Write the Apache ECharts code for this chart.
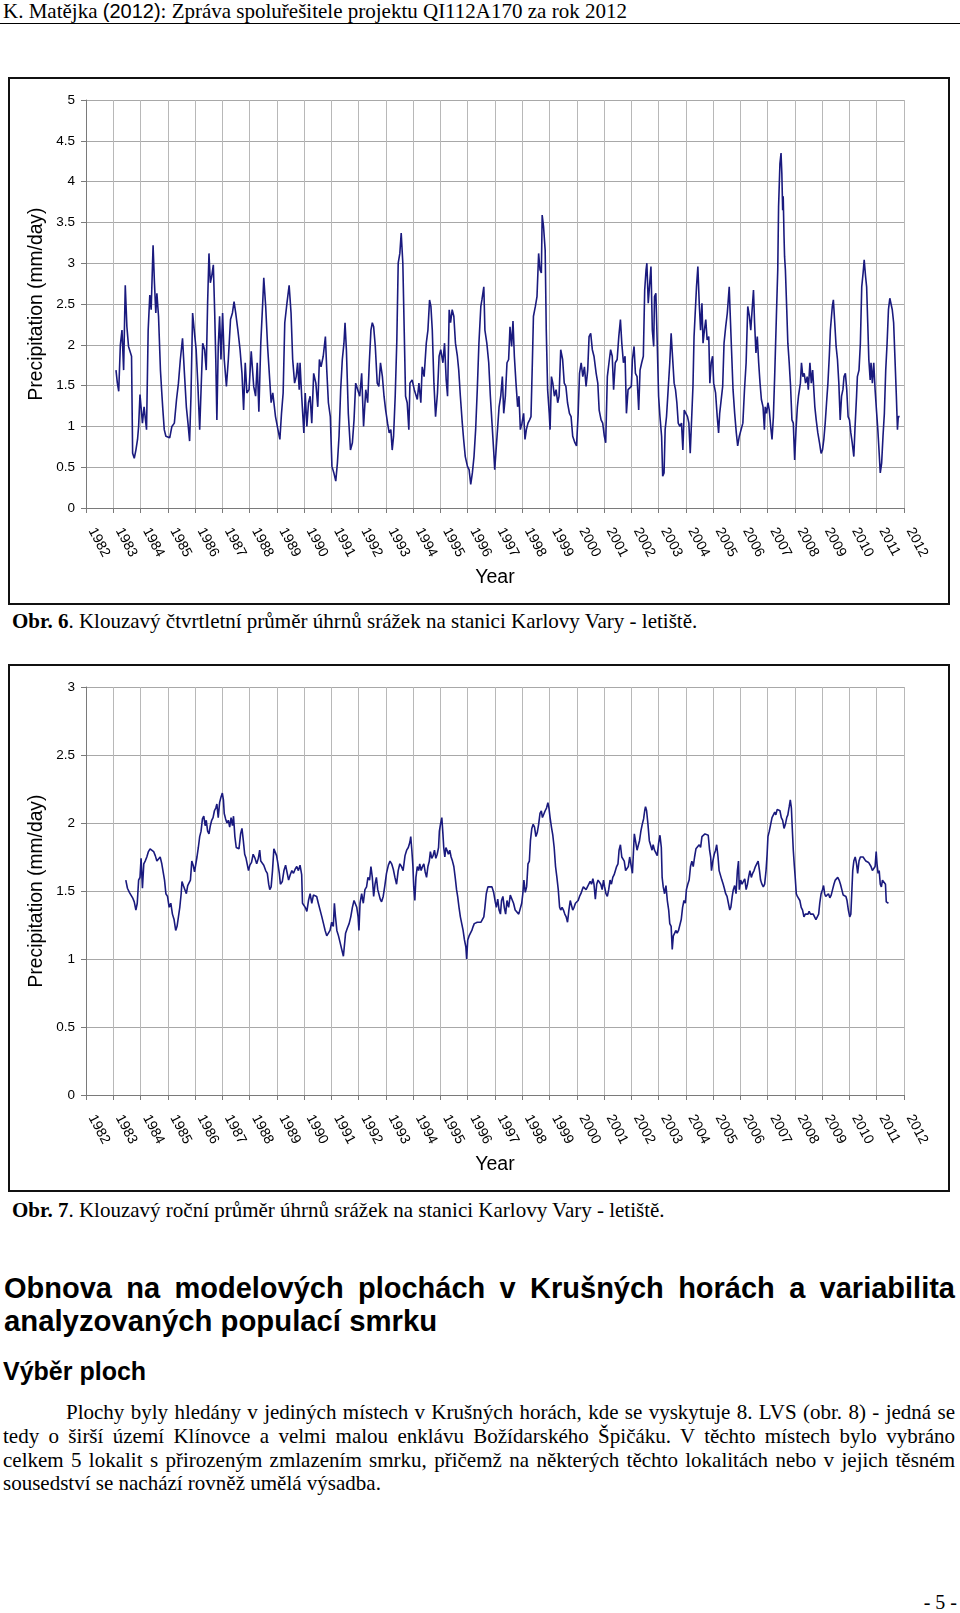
<!DOCTYPE html>
<html><head><meta charset="utf-8">
<script src="https://cdn.jsdelivr.net/npm/echarts@6/dist/echarts.min.js"></script>
<style>
html,body{margin:0;padding:0;background:#fff;}
body{width:960px;height:1613px;position:relative;overflow:hidden;}
.serif{font-family:"Liberation Serif","Times New Roman",serif;color:#000;}
.sans{font-family:"Liberation Sans",Arial,sans-serif;color:#000;}
.abs{position:absolute;white-space:nowrap;}
.just{text-align:justify;text-align-last:justify;}
.box{position:absolute;border:2px solid #111;box-sizing:border-box;z-index:2;pointer-events:none;}
.chart{position:absolute;z-index:1;}
</style></head>
<body>
<div class="abs serif" style="left:3px;top:-1px;font-size:21px;line-height:24px;">K. Matějka <span class="sans" style="font-size:20px">(2012)</span>: Zpráva spoluřešitele projektu QI112A170 za rok 2012</div>
<div style="position:absolute;left:0;top:23px;width:960px;height:1px;background:#000"></div>

<div id="c1" class="chart" style="left:8px;top:77px;width:942px;height:528px;"></div>
<div class="box" style="left:8px;top:77px;width:942px;height:528px;"></div>
<div class="abs serif" style="left:12px;top:609px;font-size:21px;line-height:24px;"><b>Obr. 6</b>. Klouzavý čtvrtletní průměr úhrnů srážek na stanici Karlovy Vary - letiště.</div>

<div id="c2" class="chart" style="left:8px;top:664px;width:942px;height:528px;"></div>
<div class="box" style="left:8px;top:664px;width:942px;height:528px;"></div>
<div class="abs serif" style="left:12px;top:1198px;font-size:21px;line-height:24px;"><b>Obr. 7</b>. Klouzavý roční průměr úhrnů srážek na stanici Karlovy Vary - letiště.</div>

<div class="abs sans just" style="left:4px;top:1272px;width:951px;font-size:29px;line-height:32px;font-weight:bold;">Obnova na modelových plochách v Krušných horách a variabilita</div>
<div class="abs sans" style="left:4px;top:1305px;font-size:29.3px;line-height:32px;font-weight:bold;">analyzovaných populací smrku</div>
<div class="abs sans" style="left:3px;top:1356px;font-size:25px;line-height:30px;font-weight:bold;">Výběr ploch</div>

<div class="abs serif just" style="left:66px;top:1401px;width:889px;font-size:21px;line-height:23.3px;">Plochy byly hledány v jediných místech v Krušných horách, kde se vyskytuje 8. LVS (obr. 8) - jedná se</div>
<div class="abs serif just" style="left:3px;top:1424.5px;width:952px;font-size:21px;line-height:23.3px;">tedy o širší území Klínovce a velmi malou enklávu Božídarského Špičáku. V těchto místech bylo vybráno</div>
<div class="abs serif just" style="left:3px;top:1448.5px;width:952px;font-size:21px;line-height:23.3px;">celkem 5 lokalit s přirozeným zmlazením smrku, přičemž na některých těchto lokalitách nebo v jejich těsném</div>
<div class="abs serif" style="left:3px;top:1472px;font-size:21px;line-height:23.3px;">sousedství se nachází rovněž umělá výsadba.</div>

<div class="abs serif" style="right:3px;top:1590px;font-size:20px;line-height:24px;">- 5 -</div>

<script>
// Obr. 6 – rolling quarterly mean precipitation (mm/day): [decimal year, value]
const quarterlyMean = [
[1983.10,1.69],[1983.15,1.53],[1983.20,1.43],[1983.26,2.00],[1983.32,2.18],[1983.38,1.69],[1983.44,2.73],[1983.50,2.22],[1983.56,1.98],[1983.62,2.00],[1983.67,1.86],[1983.71,0.67],[1983.77,0.61],[1983.83,0.71],[1983.89,0.84],[1983.93,1.00],[1983.98,1.39],
[1984.02,1.37],[1984.07,1.04],[1984.13,1.24],[1984.22,0.96],[1984.28,2.18],[1984.34,2.61],[1984.39,2.43],[1984.46,3.22],[1984.51,2.76],[1984.56,2.39],[1984.60,2.63],[1984.66,2.35],[1984.73,1.69],[1984.78,1.41],[1984.82,1.20],[1984.87,0.96],[1984.93,0.88],
[1985.00,0.90],[1985.07,0.86],[1985.15,1.00],[1985.24,1.04],[1985.32,1.33],[1985.39,1.53],[1985.46,1.82],[1985.54,2.08],[1985.61,1.65],[1985.68,1.24],[1985.74,1.04],[1985.80,0.82],[1985.85,1.37],[1985.91,2.39],[1985.98,2.14],
[1986.04,1.94],[1986.10,1.53],[1986.17,0.96],[1986.22,1.45],[1986.28,2.02],[1986.35,1.94],[1986.41,1.69],[1986.46,2.51],[1986.51,3.12],[1986.56,2.76],[1986.61,2.84],[1986.67,2.98],[1986.72,2.39],[1986.76,1.82],[1986.80,1.08],[1986.85,1.98],[1986.90,2.35],[1986.95,1.82],
[1987.01,2.39],[1987.07,1.82],[1987.15,1.49],[1987.22,1.82],[1987.30,2.31],[1987.37,2.39],[1987.43,2.53],[1987.49,2.39],[1987.57,2.18],[1987.65,1.94],[1987.72,1.65],[1987.78,1.20],[1987.84,1.78],[1987.90,1.41],[1987.98,1.45],
[1988.06,1.92],[1988.15,1.49],[1988.22,1.37],[1988.28,1.78],[1988.34,1.18],[1988.41,2.02],[1988.48,2.51],[1988.52,2.82],[1988.59,2.47],[1988.66,1.98],[1988.73,1.61],[1988.79,1.29],[1988.85,1.41],[1988.95,1.12],
[1989.04,0.96],[1989.11,0.84],[1989.17,1.16],[1989.23,1.41],[1989.29,2.27],[1989.37,2.51],[1989.45,2.73],[1989.52,2.39],[1989.58,1.82],[1989.65,1.53],[1989.71,1.61],[1989.76,1.78],[1989.82,1.45],[1989.85,1.78],[1989.91,1.37],[1989.99,0.92],
[1990.04,1.41],[1990.10,1.00],[1990.16,1.29],[1990.22,1.37],[1990.28,1.04],[1990.35,1.65],[1990.43,1.53],[1990.50,1.24],[1990.56,1.82],[1990.62,1.73],[1990.70,1.86],[1990.78,2.10],[1990.83,1.69],[1990.89,1.29],[1990.96,1.12],
[1991.02,0.51],[1991.09,0.43],[1991.16,0.33],[1991.22,0.55],[1991.28,0.88],[1991.34,1.45],[1991.40,1.82],[1991.46,2.02],[1991.50,2.27],[1991.55,1.94],[1991.62,1.16],[1991.70,0.71],[1991.77,0.80],[1991.83,1.08],[1991.89,1.53],[1991.96,1.53],
[1992.04,1.37],[1992.11,1.65],[1992.18,1.00],[1992.26,1.45],[1992.33,1.29],[1992.39,1.78],[1992.45,2.18],[1992.50,2.27],[1992.55,2.22],[1992.61,1.98],[1992.68,1.53],[1992.74,1.49],[1992.80,1.78],[1992.87,1.61],[1992.93,1.37],[1992.99,1.20],
[1993.06,1.04],[1993.12,0.92],[1993.18,0.96],[1993.23,0.71],[1993.28,0.88],[1993.34,1.37],[1993.40,2.06],[1993.45,3.00],[1993.51,3.12],[1993.56,3.37],[1993.62,3.00],[1993.67,2.18],[1993.72,1.37],[1993.78,1.29],[1993.84,0.96],[1993.88,1.53],[1993.96,1.57],
[1994.04,1.45],[1994.10,1.45],[1994.15,1.33],[1994.21,1.53],[1994.28,1.29],[1994.33,1.73],[1994.40,1.61],[1994.48,2.02],[1994.54,2.18],[1994.60,2.55],[1994.65,2.47],[1994.70,2.18],[1994.76,1.53],[1994.82,1.12],[1994.89,1.41],[1994.95,1.86],
[1995.01,1.94],[1995.09,1.78],[1995.15,2.02],[1995.21,1.57],[1995.26,1.37],[1995.32,2.43],[1995.37,2.27],[1995.43,2.43],[1995.49,2.35],[1995.55,2.02],[1995.62,1.86],[1995.67,1.69],[1995.73,1.37],[1995.80,1.04],[1995.85,0.84],[1995.91,0.63],[1995.99,0.51],
[1996.05,0.47],[1996.11,0.29],[1996.17,0.43],[1996.23,0.63],[1996.29,0.96],[1996.35,1.45],[1996.41,2.02],[1996.48,2.47],[1996.52,2.55],[1996.59,2.71],[1996.63,2.18],[1996.70,2.02],[1996.77,1.78],[1996.83,1.37],[1996.89,1.04],[1996.95,0.71],[1996.99,0.47],
[1997.04,0.71],[1997.10,1.00],[1997.15,1.24],[1997.21,1.37],[1997.27,1.61],[1997.32,1.16],[1997.38,1.37],[1997.44,1.78],[1997.50,1.82],[1997.55,2.22],[1997.61,1.98],[1997.66,2.29],[1997.71,1.86],[1997.77,1.53],[1997.83,1.24],[1997.88,1.37],[1997.93,0.96],[1997.99,1.04],
[1998.05,1.16],[1998.10,0.84],[1998.15,0.96],[1998.21,1.04],[1998.27,1.08],[1998.32,1.12],[1998.37,1.78],[1998.41,2.35],[1998.48,2.47],[1998.54,2.59],[1998.60,3.12],[1998.65,2.92],[1998.70,2.88],[1998.73,3.59],[1998.78,3.45],[1998.84,3.16],[1998.88,2.18],[1998.93,1.45],[1998.99,1.16],
[1999.02,0.96],[1999.07,1.61],[1999.12,1.53],[1999.18,1.37],[1999.24,1.45],[1999.30,1.29],[1999.35,1.37],[1999.41,1.94],[1999.48,1.82],[1999.54,1.53],[1999.60,1.49],[1999.66,1.29],[1999.73,1.16],[1999.79,1.12],[1999.85,0.88],[1999.93,0.80],[1999.99,0.76],
[2000.05,1.16],[2000.10,1.65],[2000.16,1.78],[2000.22,1.61],[2000.28,1.73],[2000.34,1.49],[2000.40,1.69],[2000.45,2.10],[2000.51,2.14],[2000.57,1.94],[2000.63,1.86],[2000.71,1.65],[2000.77,1.53],[2000.82,1.20],[2000.89,1.08],[2000.95,1.04],
[2001.01,0.88],[2001.06,0.80],[2001.12,1.61],[2001.18,1.78],[2001.24,1.94],[2001.30,1.86],[2001.35,1.45],[2001.41,1.78],[2001.48,1.82],[2001.54,2.10],[2001.60,2.31],[2001.65,2.02],[2001.71,1.78],[2001.77,1.86],[2001.82,1.16],[2001.88,1.45],[2001.94,1.45],
[2002.00,1.49],[2002.04,1.82],[2002.10,1.98],[2002.15,1.65],[2002.21,1.61],[2002.27,1.20],[2002.32,1.69],[2002.38,1.78],[2002.44,1.86],[2002.49,2.67],[2002.54,2.92],[2002.57,3.00],[2002.62,2.51],[2002.67,2.51],[2002.72,2.96],[2002.77,2.18],[2002.82,1.98],[2002.85,2.59],[2002.90,2.63],[2002.95,2.02],
[2003.00,1.37],[2003.05,1.12],[2003.11,0.88],[2003.15,0.39],[2003.20,0.43],[2003.24,0.96],[2003.29,1.12],[2003.35,1.45],[2003.41,1.78],[2003.46,2.14],[2003.51,1.86],[2003.57,1.53],[2003.62,1.45],[2003.67,1.29],[2003.72,1.04],[2003.78,1.00],[2003.84,1.04],[2003.89,0.71],[2003.94,1.20],
[2004.00,1.20],[2004.06,1.12],[2004.11,1.04],[2004.16,0.67],[2004.21,0.67],[2004.26,1.49],[2004.30,2.10],[2004.39,2.71],[2004.44,2.96],[2004.49,2.51],[2004.54,2.18],[2004.59,2.51],[2004.63,2.02],[2004.68,2.18],[2004.73,2.31],[2004.78,2.06],[2004.84,2.10],[2004.88,1.53],[2004.93,1.78],[2004.98,1.86],
[2005.02,1.53],[2005.09,1.41],[2005.15,1.12],[2005.20,0.92],[2005.24,1.16],[2005.30,1.16],[2005.35,1.49],[2005.40,2.02],[2005.46,2.22],[2005.52,2.39],[2005.59,2.71],[2005.62,2.43],[2005.67,1.98],[2005.73,1.45],[2005.79,1.16],[2005.85,0.92],[2005.90,0.76],[2005.96,0.88],
[2006.02,0.88],[2006.09,1.04],[2006.15,1.45],[2006.21,1.78],[2006.27,2.47],[2006.33,2.35],[2006.38,2.18],[2006.43,2.43],[2006.48,2.67],[2006.52,2.27],[2006.57,1.90],[2006.62,2.10],[2006.67,1.78],[2006.72,1.53],[2006.77,1.33],[2006.83,1.24],[2006.88,0.96],[2006.91,1.24],[2006.96,1.16],
[2007.01,1.29],[2007.06,1.20],[2007.11,1.00],[2007.16,0.84],[2007.21,1.12],[2007.26,1.65],[2007.32,2.35],[2007.37,2.92],[2007.40,3.69],[2007.45,4.22],[2007.49,4.35],[2007.52,4.10],[2007.55,3.65],[2007.57,3.82],[2007.60,3.33],[2007.62,3.08],[2007.65,2.92],[2007.70,2.43],[2007.74,2.02],[2007.79,1.78],[2007.84,1.49],[2007.89,1.08],[2007.94,1.04],[2007.99,0.59],
[2008.04,0.96],[2008.09,1.24],[2008.13,1.37],[2008.20,1.53],[2008.24,1.78],[2008.29,1.61],[2008.34,1.65],[2008.39,1.53],[2008.45,1.61],[2008.49,1.45],[2008.55,1.78],[2008.60,1.53],[2008.65,1.69],[2008.70,1.41],[2008.73,1.24],[2008.78,1.08],[2008.84,0.92],[2008.90,0.80],[2008.96,0.67],
[2009.01,0.71],[2009.06,0.84],[2009.11,1.04],[2009.16,1.29],[2009.21,1.53],[2009.26,1.86],[2009.30,2.18],[2009.37,2.47],[2009.41,2.55],[2009.46,2.27],[2009.51,1.98],[2009.56,1.82],[2009.61,1.53],[2009.66,1.08],[2009.71,1.37],[2009.76,1.45],[2009.80,1.61],[2009.85,1.65],[2009.90,1.45],[2009.95,1.12],
[2010.00,1.08],[2010.05,0.92],[2010.10,0.80],[2010.16,0.63],[2010.20,0.96],[2010.26,1.37],[2010.29,1.61],[2010.35,1.69],[2010.40,2.02],[2010.45,2.71],[2010.50,2.88],[2010.54,3.04],[2010.59,2.84],[2010.63,2.71],[2010.67,2.27],[2010.71,1.82],[2010.76,1.57],[2010.79,1.78],[2010.84,1.53],[2010.89,1.78],[2010.94,1.45],[2010.99,1.20],
[2011.04,0.96],[2011.09,0.67],[2011.13,0.43],[2011.18,0.55],[2011.23,0.88],[2011.28,1.16],[2011.33,1.69],[2011.38,2.02],[2011.43,2.43],[2011.48,2.57],[2011.52,2.55],[2011.57,2.43],[2011.62,2.27],[2011.67,1.82],[2011.72,1.37],[2011.76,0.96],[2011.79,1.12],[2011.84,1.12]
];

// Obr. 7 – rolling annual mean precipitation (mm/day): [decimal year, value]
const annualMean = [
[1983.46,1.58],[1983.52,1.52],[1983.59,1.49],[1983.65,1.47],[1983.71,1.45],[1983.77,1.42],[1983.83,1.36],[1983.88,1.41],[1983.93,1.58],[1983.98,1.60],
[1984.02,1.74],[1984.07,1.52],[1984.12,1.70],[1984.17,1.72],[1984.23,1.75],[1984.29,1.79],[1984.35,1.81],[1984.41,1.82],[1984.48,1.79],[1984.54,1.76],[1984.60,1.72],[1984.66,1.71],[1984.72,1.75],[1984.78,1.70],[1984.83,1.70],[1984.88,1.58],[1984.93,1.48],[1984.99,1.46],
[1985.05,1.38],[1985.11,1.41],[1985.17,1.33],[1985.23,1.29],[1985.29,1.21],[1985.34,1.24],[1985.39,1.31],[1985.44,1.38],[1985.49,1.48],[1985.52,1.57],[1985.57,1.54],[1985.63,1.54],[1985.68,1.48],[1985.73,1.54],[1985.78,1.54],[1985.83,1.58],[1985.88,1.72],[1985.93,1.69],[1985.98,1.64],
[1986.02,1.65],[1986.07,1.75],[1986.12,1.82],[1986.17,1.90],[1986.22,1.94],[1986.27,2.03],[1986.32,2.05],[1986.37,1.98],[1986.41,2.02],[1986.46,1.94],[1986.51,1.92],[1986.56,1.98],[1986.61,2.02],[1986.66,2.04],[1986.71,2.09],[1986.76,2.11],[1986.80,2.14],[1986.85,2.04],[1986.90,2.15],[1986.95,2.19],
[1987.00,2.22],[1987.04,2.17],[1987.07,2.07],[1987.12,2.03],[1987.17,2.00],[1987.22,2.02],[1987.27,1.97],[1987.32,2.04],[1987.37,1.98],[1987.41,2.05],[1987.46,1.90],[1987.51,1.82],[1987.56,1.83],[1987.61,1.81],[1987.67,1.92],[1987.72,1.96],[1987.77,1.87],[1987.82,1.77],[1987.87,1.74],[1987.91,1.70],[1987.96,1.65],
[1988.01,1.69],[1988.07,1.71],[1988.13,1.77],[1988.20,1.74],[1988.26,1.70],[1988.32,1.74],[1988.37,1.80],[1988.41,1.72],[1988.46,1.71],[1988.52,1.69],[1988.59,1.65],[1988.65,1.63],[1988.70,1.55],[1988.74,1.51],[1988.79,1.53],[1988.84,1.65],[1988.89,1.81],[1988.94,1.82],[1988.99,1.76],
[1989.04,1.70],[1989.09,1.63],[1989.13,1.55],[1989.20,1.57],[1989.26,1.65],[1989.32,1.69],[1989.37,1.68],[1989.43,1.58],[1989.49,1.62],[1989.55,1.65],[1989.61,1.63],[1989.67,1.66],[1989.73,1.68],[1989.79,1.65],[1989.85,1.69],[1989.91,1.62],[1989.94,1.41],[1989.98,1.42],
[1990.04,1.38],[1990.10,1.35],[1990.16,1.43],[1990.22,1.48],[1990.28,1.41],[1990.34,1.47],[1990.40,1.48],[1990.46,1.46],[1990.52,1.41],[1990.59,1.41],[1990.65,1.31],[1990.71,1.26],[1990.77,1.21],[1990.83,1.17],[1990.89,1.18],[1990.95,1.21],
[1991.01,1.27],[1991.07,1.24],[1991.11,1.41],[1991.15,1.31],[1991.20,1.21],[1991.26,1.17],[1991.32,1.12],[1991.38,1.07],[1991.44,1.02],[1991.48,1.01],[1991.52,1.19],[1991.59,1.23],[1991.65,1.26],[1991.71,1.31],[1991.77,1.38],[1991.83,1.43],[1991.88,1.44],[1991.93,1.38],[1991.98,1.31],
[1992.01,1.21],[1992.05,1.41],[1992.11,1.48],[1992.17,1.41],[1992.23,1.51],[1992.29,1.53],[1992.34,1.60],[1992.40,1.58],[1992.45,1.68],[1992.50,1.60],[1992.55,1.46],[1992.60,1.55],[1992.65,1.60],[1992.70,1.51],[1992.74,1.52],[1992.79,1.44],[1992.84,1.42],[1992.90,1.46],[1992.96,1.54],
[1993.02,1.63],[1993.09,1.69],[1993.15,1.72],[1993.21,1.70],[1993.27,1.66],[1993.33,1.60],[1993.39,1.55],[1993.45,1.65],[1993.51,1.70],[1993.57,1.68],[1993.63,1.65],[1993.70,1.76],[1993.76,1.80],[1993.82,1.82],[1993.88,1.86],[1993.91,1.90],[1993.95,1.80],[1993.99,1.68],
[1994.02,1.53],[1994.06,1.43],[1994.10,1.60],[1994.15,1.68],[1994.20,1.65],[1994.24,1.70],[1994.29,1.65],[1994.34,1.68],[1994.39,1.70],[1994.44,1.64],[1994.49,1.60],[1994.54,1.68],[1994.59,1.72],[1994.63,1.79],[1994.68,1.74],[1994.73,1.76],[1994.78,1.80],[1994.83,1.74],[1994.88,1.77],[1994.93,1.82],[1994.96,1.94],
[1995.00,1.99],[1995.05,2.04],[1995.09,1.92],[1995.12,1.82],[1995.16,1.75],[1995.20,1.82],[1995.24,1.80],[1995.29,1.77],[1995.34,1.80],[1995.39,1.75],[1995.44,1.72],[1995.49,1.68],[1995.54,1.60],[1995.59,1.51],[1995.63,1.46],[1995.68,1.38],[1995.73,1.31],[1995.78,1.26],[1995.83,1.21],[1995.88,1.14],[1995.93,1.09],[1995.96,1.00],
[1996.00,1.14],[1996.05,1.17],[1996.10,1.19],[1996.15,1.21],[1996.20,1.24],[1996.24,1.26],[1996.29,1.26],[1996.35,1.27],[1996.41,1.26],[1996.48,1.27],[1996.54,1.27],[1996.59,1.31],[1996.63,1.38],[1996.68,1.48],[1996.74,1.53],[1996.80,1.54],[1996.89,1.53],[1996.95,1.49],
[1997.01,1.42],[1997.05,1.38],[1997.10,1.44],[1997.15,1.36],[1997.20,1.33],[1997.24,1.43],[1997.29,1.46],[1997.34,1.38],[1997.39,1.33],[1997.44,1.43],[1997.50,1.38],[1997.56,1.47],[1997.62,1.46],[1997.68,1.41],[1997.74,1.36],[1997.80,1.35],[1997.87,1.33],[1997.93,1.32],[1997.98,1.41],
[1998.02,1.48],[1998.06,1.58],[1998.11,1.49],[1998.16,1.53],[1998.21,1.70],[1998.26,1.72],[1998.30,1.87],[1998.35,1.96],[1998.40,1.99],[1998.45,1.97],[1998.50,1.90],[1998.55,1.93],[1998.60,1.99],[1998.65,2.07],[1998.70,2.09],[1998.74,2.04],[1998.79,2.05],[1998.84,2.09],[1998.89,2.11],[1998.94,2.15],[1998.98,2.11],
[1999.02,2.04],[1999.07,1.97],[1999.12,1.91],[1999.17,1.82],[1999.22,1.68],[1999.27,1.60],[1999.32,1.51],[1999.37,1.38],[1999.41,1.36],[1999.46,1.38],[1999.51,1.36],[1999.56,1.33],[1999.61,1.31],[1999.66,1.27],[1999.71,1.36],[1999.76,1.43],[1999.80,1.42],[1999.85,1.36],[1999.90,1.38],[1999.95,1.41],
[2000.00,1.40],[2000.05,1.43],[2000.10,1.46],[2000.15,1.48],[2000.20,1.51],[2000.24,1.53],[2000.29,1.54],[2000.34,1.51],[2000.39,1.53],[2000.44,1.54],[2000.49,1.57],[2000.54,1.55],[2000.59,1.59],[2000.63,1.55],[2000.68,1.44],[2000.73,1.55],[2000.78,1.58],[2000.83,1.59],[2000.88,1.55],[2000.93,1.51],[2000.98,1.58],
[2001.02,1.53],[2001.07,1.48],[2001.12,1.46],[2001.17,1.51],[2001.22,1.58],[2001.27,1.55],[2001.32,1.60],[2001.37,1.62],[2001.41,1.63],[2001.46,1.68],[2001.51,1.70],[2001.55,1.80],[2001.60,1.84],[2001.65,1.75],[2001.70,1.76],[2001.74,1.72],[2001.79,1.65],[2001.84,1.64],[2001.89,1.68],[2001.94,1.75],[2001.99,1.74],
[2002.04,1.63],[2002.07,1.63],[2002.11,1.92],[2002.16,1.91],[2002.21,1.80],[2002.26,1.84],[2002.30,1.87],[2002.35,1.94],[2002.40,1.99],[2002.45,2.03],[2002.49,2.09],[2002.52,2.12],[2002.56,2.09],[2002.61,1.99],[2002.66,1.87],[2002.71,1.86],[2002.76,1.80],[2002.80,1.84],[2002.85,1.80],[2002.90,1.79],[2002.95,1.76],
[2003.00,1.85],[2003.05,1.91],[2003.10,1.82],[2003.13,1.60],[2003.17,1.53],[2003.22,1.48],[2003.27,1.54],[2003.32,1.43],[2003.37,1.36],[2003.41,1.26],[2003.46,1.24],[2003.50,1.07],[2003.54,1.17],[2003.59,1.19],[2003.63,1.21],[2003.68,1.19],[2003.73,1.21],[2003.78,1.21],[2003.83,1.29],[2003.88,1.38],[2003.93,1.43],[2003.98,1.41],
[2004.02,1.51],[2004.07,1.55],[2004.12,1.58],[2004.17,1.68],[2004.22,1.72],[2004.27,1.68],[2004.32,1.75],[2004.37,1.81],[2004.44,1.80],[2004.49,1.84],[2004.54,1.82],[2004.59,1.90],[2004.63,1.91],[2004.70,1.92],[2004.76,1.91],[2004.82,1.91],[2004.87,1.80],[2004.91,1.75],[2004.94,1.65],[2004.99,1.72],
[2005.04,1.77],[2005.09,1.80],[2005.13,1.84],[2005.18,1.75],[2005.22,1.65],[2005.27,1.65],[2005.32,1.58],[2005.37,1.55],[2005.41,1.52],[2005.46,1.48],[2005.51,1.46],[2005.56,1.41],[2005.61,1.36],[2005.65,1.38],[2005.70,1.46],[2005.74,1.51],[2005.79,1.54],[2005.84,1.48],[2005.89,1.65],[2005.93,1.72],[2005.96,1.51],
[2006.01,1.58],[2006.06,1.55],[2006.11,1.56],[2006.16,1.59],[2006.21,1.51],[2006.26,1.55],[2006.30,1.60],[2006.35,1.65],[2006.40,1.60],[2006.45,1.63],[2006.50,1.65],[2006.55,1.68],[2006.60,1.70],[2006.65,1.72],[2006.70,1.65],[2006.74,1.58],[2006.79,1.55],[2006.84,1.53],[2006.89,1.55],[2006.94,1.65],[2006.98,1.77],
[2007.01,1.90],[2007.06,1.94],[2007.11,1.99],[2007.16,2.04],[2007.21,2.05],[2007.26,2.08],[2007.30,2.06],[2007.35,2.10],[2007.40,2.11],[2007.45,2.09],[2007.50,2.04],[2007.55,2.02],[2007.60,1.96],[2007.65,1.99],[2007.70,2.04],[2007.74,2.06],[2007.79,2.12],[2007.83,2.17],[2007.87,2.11],[2007.90,1.97],[2007.94,1.80],[2007.98,1.68],
[2008.01,1.60],[2008.05,1.48],[2008.09,1.46],[2008.13,1.45],[2008.18,1.43],[2008.23,1.38],[2008.28,1.36],[2008.33,1.31],[2008.38,1.33],[2008.43,1.32],[2008.48,1.33],[2008.52,1.35],[2008.57,1.33],[2008.62,1.32],[2008.67,1.33],[2008.72,1.31],[2008.77,1.29],[2008.82,1.30],[2008.87,1.33],[2008.91,1.41],[2008.96,1.48],
[2009.01,1.51],[2009.05,1.54],[2009.09,1.48],[2009.13,1.46],[2009.18,1.45],[2009.23,1.48],[2009.28,1.45],[2009.33,1.47],[2009.38,1.51],[2009.43,1.55],[2009.48,1.58],[2009.52,1.59],[2009.57,1.60],[2009.62,1.58],[2009.67,1.55],[2009.72,1.51],[2009.77,1.47],[2009.82,1.48],[2009.87,1.46],[2009.91,1.43],[2009.96,1.36],
[2010.01,1.31],[2010.05,1.33],[2010.09,1.51],[2010.12,1.65],[2010.16,1.72],[2010.21,1.75],[2010.26,1.70],[2010.30,1.63],[2010.35,1.72],[2010.40,1.75],[2010.45,1.76],[2010.50,1.75],[2010.55,1.74],[2010.60,1.72],[2010.65,1.72],[2010.70,1.71],[2010.74,1.70],[2010.79,1.68],[2010.84,1.65],[2010.89,1.64],[2010.94,1.68],[2010.98,1.79],
[2011.01,1.70],[2011.05,1.63],[2011.09,1.65],[2011.13,1.55],[2011.17,1.53],[2011.21,1.58],[2011.24,1.59],[2011.28,1.57],[2011.32,1.55],[2011.35,1.42],[2011.39,1.41],[2011.43,1.41]
];

const yearRange = [1982, 2012];
const yMaxObr6 = 5;
const yMaxObr7 = 3;
const xAxisTitle = 'Year';
const yAxisTitle = 'Precipitation (mm/day)';

function build(el, data, yMax) {
  const chart = echarts.init(el, null, {renderer: 'canvas'});
  const labelFont = {fontFamily: '"Liberation Sans", Arial, sans-serif', color: '#000'};
  chart.setOption({
    animation: false,
    grid: {left: 78, right: 46, top: 23, bottom: 97, containLabel: false},
    xAxis: {
      type: 'value', min: yearRange[0], max: yearRange[1], interval: 1,
      name: xAxisTitle, nameLocation: 'middle', nameGap: 60, nameMoveOverlap: false,
      nameTextStyle: Object.assign({fontSize: 19.5}, labelFont),
      axisLine: {show: true, onZero: false, lineStyle: {color: '#7a7a7a', width: 1}},
      axisTick: {show: true, length: 5, lineStyle: {color: '#7a7a7a'}},
      axisLabel: Object.assign({rotate: -62, margin: 10, padding: [0, 0, 0, 12], fontSize: 14, formatter: v => String(v)}, labelFont),
      splitLine: {show: true, lineStyle: {color: '#b8b8b8', width: 1}}
    },
    yAxis: {
      type: 'value', min: 0, max: yMax, interval: 0.5,
      name: yAxisTitle, nameLocation: 'middle', nameGap: 40, nameMoveOverlap: false,
      nameTextStyle: Object.assign({fontSize: 19.3}, labelFont),
      axisLine: {show: true, lineStyle: {color: '#7a7a7a', width: 1}},
      axisTick: {show: true, length: 5, lineStyle: {color: '#7a7a7a'}},
      axisLabel: Object.assign({margin: 11, fontSize: 13.5, formatter: v => String(v)}, labelFont),
      splitLine: {show: true, lineStyle: {color: '#a8a8a8', width: 1}}
    },
    series: [{
      type: 'line', data: data, symbol: 'none', showSymbol: false, silent: true,
      lineStyle: {color: '#1a1a7e', width: 1.6}
    }]
  });
}
build(document.getElementById('c1'), quarterlyMean, yMaxObr6);
build(document.getElementById('c2'), annualMean, yMaxObr7);
</script>
</body></html>
